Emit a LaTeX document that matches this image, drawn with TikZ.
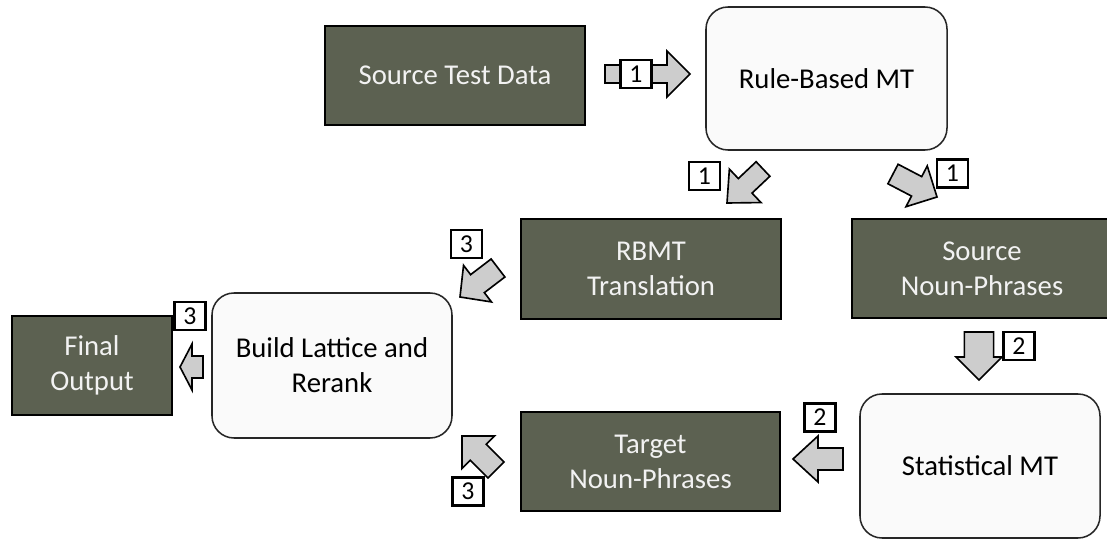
\documentclass[tikz,border=0pt]{standalone}
\usepackage{fontspec}
\setmainfont{Carlito}
\usetikzlibrary{calc, positioning}
\definecolor{boxgray}{RGB}{92, 97, 81}
\definecolor{arrowgray}{RGB}{205, 205, 205}
\definecolor{paleback}{RGB}{250, 250, 250}

\newlength{\arrowheadw}\setlength{\arrowheadw}{0.69cm}
% block arrow: [shaft half width]{tail}{tip}{head length}
\newcommand{\blockarrow}[4][0.33cm]{%
  \coordinate (hb) at ($(#3)!#4!(#2)$);
  \draw[barrow] ($(#2)!#1!90:(#3)$) -- ($(hb)!#1!90:(#3)$) -- ($(hb)!\arrowheadw!90:(#3)$) -- (#3)
    -- ($(hb)!\arrowheadw!-90:(#3)$) -- ($(hb)!#1!-90:(#3)$) -- ($(#2)!#1!-90:(#3)$) -- cycle;}

\begin{document}
\begin{tikzpicture}[x=0.03cm, y=-0.03cm,
  darkbox/.style={draw=black, line width=2.4pt, fill=boxgray, text=white!95!black, font=\fontsize{24.5}{30}\selectfont, align=center, inner sep=0pt, minimum width=7.8cm, minimum height=2.97cm},
  palebox/.style={draw=black!85, line width=1.3pt, fill=paleback, rounded corners=0.66cm, font=\fontsize{24.5}{30}\selectfont, align=center, inner sep=0pt, minimum width=7.2cm, minimum height=4.32cm},
  numlabel/.style={draw=black, line width=2.1pt, fill=white, minimum width=0.93cm, minimum height=0.84cm, inner sep=0pt, font=\fontsize{22}{22}\selectfont},
  barrow/.style={draw=black, line width=1.4pt, fill=arrowgray, line join=miter}]
  \fill[white] (0,0) rectangle (1107,539);
  \useasboundingbox (0,0) rectangle (1107,539);

  % Boxes
  \node[darkbox] (src) at (455, 75.5) {Source Test Data};
  \node[palebox, minimum width=7.23cm, minimum height=4.29cm] (rbmt) at (826.5, 78.5) {Rule-Based MT};
  \node[darkbox, minimum height=3cm] (trans) at (651, 269) {RBMT\\Translation};
  \node[darkbox] (srcnp) at (982, 268.5) {Source\\Noun-Phrases};
  \node[palebox, minimum height=4.35cm] (lattice) at (332, 365.5) {Build Lattice and\\Rerank};
  \node[darkbox, minimum width=4.8cm] (final) at (92, 365.5) {Final\\Output};
  \node[palebox] (smt) at (980, 466) {Statistical MT};
  \node[darkbox, minimum width=7.77cm] (tgtnp) at (650.5, 461.5) {Target\\Noun-Phrases};

  % Arrow ends
  \coordinate (a1s) at (605, 74);   \coordinate (a1e) at (690, 74);
  \coordinate (a2s) at (763, 169);  \coordinate (a2e) at (727, 203);
  \coordinate (a3s) at (893, 174);  \coordinate (a3e) at (937, 197);
  \coordinate (a4s) at (498, 268);  \coordinate (a4e) at (460, 297);
  \coordinate (a5s) at (979, 332);  \coordinate (a5e) at (979, 380);
  \coordinate (a6s) at (843, 459);  \coordinate (a6e) at (793, 459);
  \coordinate (a7s) at (496, 470);  \coordinate (a7e) at (462, 436);
  \coordinate (a8s) at (203, 367);  \coordinate (a8e) at (180, 367);

  % Arrows
  \blockarrow[0.27cm]{a1s}{a1e}{0.69cm}
  \blockarrow[0.3cm]{a2s}{a2e}{0.75cm}
  \blockarrow{a3s}{a3e}{0.69cm}
  \blockarrow[0.34cm]{a4s}{a4e}{0.66cm}
  \blockarrow[0.44cm]{a5s}{a5e}{0.69cm}
  \blockarrow{a6s}{a6e}{0.75cm}
  \blockarrow[0.34cm]{a7s}{a7e}{0.69cm}
  \blockarrow{a8s}{a8e}{0.36cm}

  % Step numbers
  \node[numlabel] (n1a) at (636, 74) {1};
  \node[numlabel] (n1b) at (704.5, 176) {1};
  \node[numlabel] (n1c) at (952.5, 173.5) {1};
  \node[numlabel] (n3a) at (466.5, 244) {3};
  \node[numlabel] (n2a) at (1019, 346) {2};
  \node[numlabel] (n2b) at (820, 417.5) {2};
  \node[numlabel] (n3b) at (468, 491.5) {3};
  \node[numlabel] (n3c) at (190, 316) {3};
\end{tikzpicture}
\end{document}
